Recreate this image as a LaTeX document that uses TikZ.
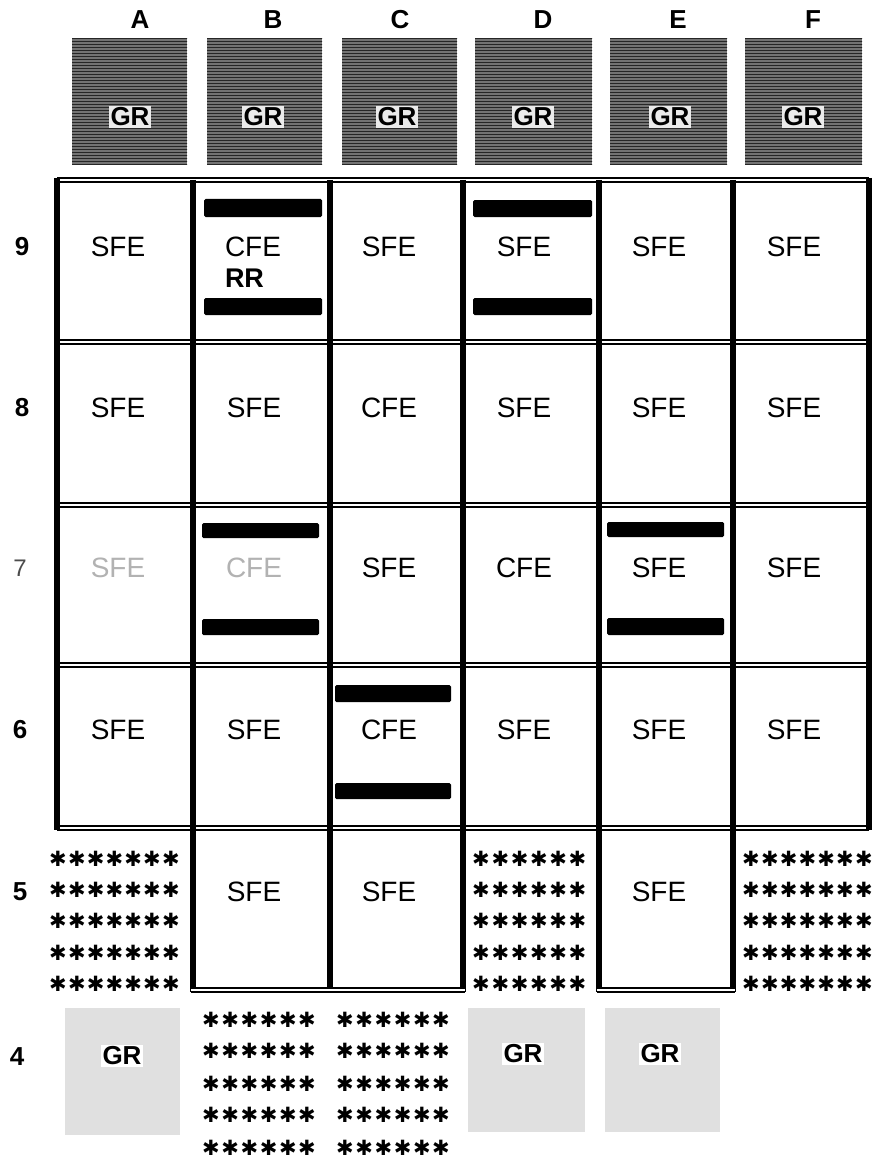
\documentclass[tikz,border=0pt]{standalone}
\usepackage{fontspec}
\setmainfont{Liberation Sans}
\newfontfamily\starfont{DejaVu Sans}
\usetikzlibrary{patterns}
\begin{document}
\begin{tikzpicture}[x=1pt,y=-1pt,
  hline/.style={draw=black,line width=2pt,double=white,double distance=1.4pt},
  vline/.style={draw=black,line width=5.2pt},
  frameline/.style={draw=black,line width=6pt},
  bar/.style={fill=black,rounded corners=1.5pt},
  celltxt/.style={font=\fontsize{28}{30}\selectfont,inner sep=0pt},
  fadedtxt/.style={celltxt,text=black!30},
  coltxt/.style={font=\fontsize{26}{28}\selectfont\bfseries,inner sep=0pt},
  rowtxt/.style={font=\fontsize{26}{28}\selectfont\bfseries,inner sep=0pt},
  grtop/.style={fill=black!55},
  grtex/.style={pattern=horizontal lines,pattern color=black!85},
  grbot/.style={fill=black!12},
  grtxt/.style={font=\fontsize{26}{28}\selectfont\bfseries,inner sep=1.5pt},
  staritem/.style={font=\starfont\bfseries\fontsize{21}{21}\selectfont,inner sep=0pt}
]
\useasboundingbox (0,0) rectangle (878,1161);
\fill[white] (0,0) rectangle (878,1161);

% column headers
\node[coltxt] (hA) at (140,20) {A};
\node[coltxt] (hB) at (273,20) {B};
\node[coltxt] (hC) at (400,20) {C};
\node[coltxt] (hD) at (543,20) {D};
\node[coltxt] (hE) at (678,20) {E};
\node[coltxt] (hF) at (813,20) {F};

% top gravel boxes
\foreach \xa/\xb in {72/187,207/322,342/457,475/592,610/727,745/862}{
  \fill[grtop] (\xa,38) rectangle (\xb,165);
  \fill[grtex] (\xa,38) rectangle (\xb,165);
}
\node[grtxt,fill=black!8] (gA) at (130,117) {GR};
\node[grtxt,fill=black!8] (gB) at (263,117) {GR};
\node[grtxt,fill=black!8] (gC) at (397,117) {GR};
\node[grtxt,fill=black!8] (gD) at (533,117) {GR};
\node[grtxt,fill=black!8] (gE) at (670,117) {GR};
\node[grtxt,fill=black!8] (gF) at (803,117) {GR};

% row labels
\node[rowtxt] (r9) at (22,247) {9};
\node[rowtxt] (r8) at (22,408) {8};
\node[rowtxt,font=\fontsize{24}{26}\selectfont,text=black!70] (r7) at (20,568) {7};
\node[rowtxt] (r6) at (20,730) {6};
\node[rowtxt] (r5) at (20,892) {5};
\node[rowtxt] (r4) at (17,1057) {4};

% grid lines: rows 9-6
\foreach \yy in {342,505,665} \draw[hline] (57,\yy) -- (869,\yy);
\draw[hline] (57,180) -- (869,180);
\draw[hline] (57,828) -- (869,828);
\foreach \xx in {193,330,463,599,733} \draw[vline] (\xx,180) -- (\xx,828);
\draw[frameline] (57,178) -- (57,830);
\draw[frameline] (869,178) -- (869,830);

% row 5 boxes
\foreach \xx in {193,330,463,599,733} \draw[vline] (\xx,828) -- (\xx,992);
\draw[hline] (191,990) -- (465,990);
\draw[hline] (597,990) -- (735,990);

% bars
\fill[bar] (204,199) rectangle (322,217);
\fill[bar] (204,298) rectangle (322,315);
\fill[bar] (473,200) rectangle (592,217);
\fill[bar] (473,298) rectangle (592,315);
\fill[bar] (202,523) rectangle (319,538);
\fill[bar] (202,619) rectangle (319,635);
\fill[bar] (607,522) rectangle (724,537);
\fill[bar] (607,618) rectangle (724,635);
\fill[bar] (335,685) rectangle (451,702);
\fill[bar] (335,783) rectangle (451,799);

% cell texts
% row 9
\node[celltxt] (A9) at (118,247) {SFE};
\node[celltxt] (B9) at (253,247) {CFE};
\node[celltxt,font=\fontsize{27}{29}\selectfont\bfseries,anchor=west] (B9r) at ([yshift=-31pt]B9.west) {RR};
\node[celltxt] (C9) at (389,247) {SFE};
\node[celltxt] (D9) at (524,247) {SFE};
\node[celltxt] (E9) at (659,247) {SFE};
\node[celltxt] (F9) at (794,247) {SFE};
% row 8
\node[celltxt] (A8) at (118,408) {SFE};
\node[celltxt] (B8) at (254,408) {SFE};
\node[celltxt] (C8) at (389,408) {CFE};
\node[celltxt] (D8) at (524,408) {SFE};
\node[celltxt] (E8) at (659,408) {SFE};
\node[celltxt] (F8) at (794,408) {SFE};
% row 7
\node[fadedtxt] (A7) at (118,568) {SFE};
\node[fadedtxt] (B7) at (254,568) {CFE};
\node[celltxt] (C7) at (389,568) {SFE};
\node[celltxt] (D7) at (524,568) {CFE};
\node[celltxt] (E7) at (659,568) {SFE};
\node[celltxt] (F7) at (794,568) {SFE};
% row 6
\node[celltxt] (A6) at (118,730) {SFE};
\node[celltxt] (B6) at (254,730) {SFE};
\node[celltxt] (C6) at (389,730) {CFE};
\node[celltxt] (D6) at (524,730) {SFE};
\node[celltxt] (E6) at (659,730) {SFE};
\node[celltxt] (F6) at (794,730) {SFE};
% row 5
\node[celltxt] (B5) at (254,892) {SFE};
\node[celltxt] (C5) at (389,892) {SFE};
\node[celltxt] (E5) at (659,892) {SFE};

% star blocks row 5
\foreach \r/\yy in {1/859,2/890,3/921,4/953,5/984}{
  \foreach \i in {0,...,6}{
    \node[staritem] (sA-\r-\i) at (58+\i*18.8,\yy) {✱};
    \node[staritem] (sF-\r-\i) at (751+\i*18.8,\yy) {✱};
  }
  \foreach \i in {0,...,5}{
    \node[staritem] (sD-\r-\i) at (481+\i*19.3,\yy) {✱};
  }
}
% star blocks row 4
\foreach \r/\yy in {1/1020,2/1051,3/1084,4/1115,5/1148}{
  \foreach \i in {0,...,5}{
    \node[staritem] (sB-\r-\i) at (211+\i*19.2,\yy) {✱};
    \node[staritem] (sC-\r-\i) at (345+\i*19.2,\yy) {✱};
  }
}

% bottom gravel boxes
\fill[grbot] (65,1008) rectangle (180,1135);
\fill[grbot] (468,1008) rectangle (585,1132);
\fill[grbot] (605,1008) rectangle (720,1132);
\node[grtxt,fill=white] (g4A) at (122,1056) {GR};
\node[grtxt,fill=white] (g4D) at (523,1054) {GR};
\node[grtxt,fill=white] (g4E) at (660,1054) {GR};
\end{tikzpicture}
\end{document}
